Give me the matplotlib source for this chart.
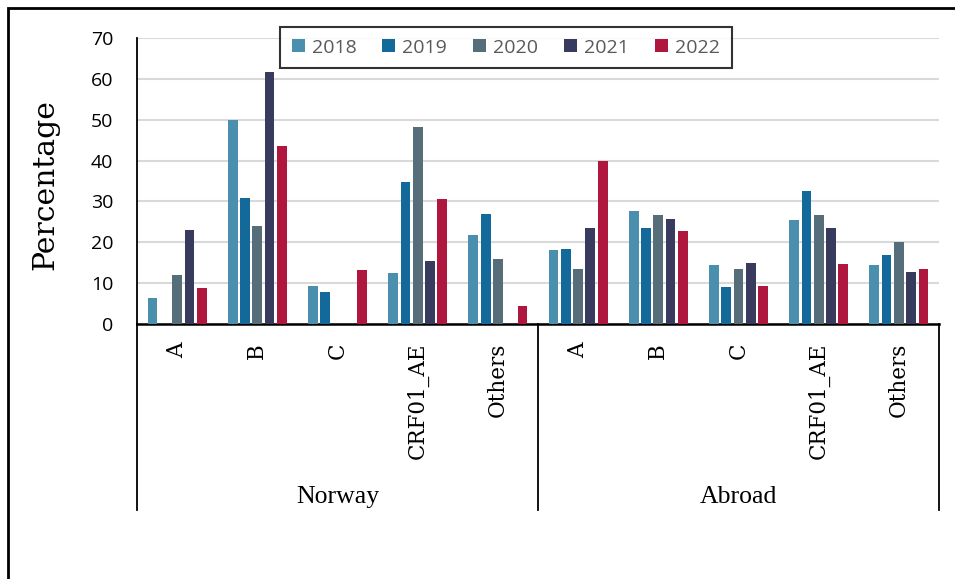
import matplotlib
matplotlib.use("Agg")
import matplotlib.pyplot as plt
import matplotlib.transforms as mtransforms
from matplotlib.patches import Rectangle
import numpy as np

# Subtype distribution by place of infection
origins = ["Norway", "Abroad"]
subtypes = ["A", "B", "C", "CRF01_AE", "Others"]
years = ["2018", "2019", "2020", "2021", "2022"]

# Values ordered: Norway A, B, C, CRF01_AE, Others, then Abroad A, B, C, CRF01_AE, Others
pct_2018 = [6.3, 50.0, 9.3, 12.5, 21.9, 18.1, 27.7, 14.5, 25.4, 14.5]
pct_2019 = [0.0, 30.8, 7.8, 34.7, 27.0, 18.3, 23.4, 9.1, 32.6, 16.9]
pct_2020 = [12.0, 24.0, 0.0, 48.2, 16.0, 13.4, 26.7, 13.4, 26.7, 20.1]
pct_2021 = [23.0, 61.7, 0.0, 15.4, 0.0, 23.4, 25.6, 14.9, 23.4, 12.8]
pct_2022 = [8.8, 43.6, 13.1, 30.5, 4.4, 40.0, 22.8, 9.4, 14.7, 13.5]

series = [pct_2018, pct_2019, pct_2020, pct_2021, pct_2022]
colors = ["#4A90AE", "#136A9A", "#566D7A", "#393B5E", "#B0173F"]

sans = ["Open Sans", "DejaVu Sans"]
serif_wide = ["DejaVu Serif"]
serif = ["Liberation Serif", "DejaVu Serif"]

fig = plt.figure(figsize=(9.55, 5.79), dpi=100)
ax = fig.add_axes([0.1435, 0.4404, 0.8397, 0.4940])

n_cat = len(origins) * len(subtypes)
x = np.arange(n_cat)
pitch = 0.153
width = 0.122
for i, (vals, col, yr) in enumerate(zip(series, colors, years)):
    offs = (i - 2) * pitch
    ax.bar(x + offs, vals, width=width, color=col, label=yr, zorder=3)

ax.set_xlim(-0.5, n_cat - 0.5)
ax.set_ylim(0, 70)
ax.set_yticks(np.arange(0, 71, 10))
ax.yaxis.grid(True, color="#D9D9D9", linewidth=1.5, zorder=0)
ax.set_axisbelow(True)
ax.tick_params(axis="y", length=0, pad=17, labelsize=14)
for lbl in ax.get_yticklabels():
    lbl.set_fontfamily(sans)
ax.set_xticks([])

for side in ["top", "right"]:
    ax.spines[side].set_visible(False)
ax.spines["left"].set_linewidth(1.3)
ax.spines["bottom"].set_linewidth(1.8)

ax.text(-0.1147, 0.486, "Percentage", transform=ax.transAxes, rotation=90,
        ha="center", va="center", fontsize=21.5, family=serif_wide)

# Two-level category axis below the plot
trans = mtransforms.blended_transform_factory(ax.transData, ax.transAxes)
for k in range(n_cat):
    ax.text(x[k], -0.066, subtypes[k % len(subtypes)], transform=trans,
            rotation=90, ha="center", va="top", fontsize=15.5,
            family=serif_wide)

bounds = [-0.5, 4.5, 9.5]
for b in bounds:
    ax.plot([b, b], [0, -0.65], transform=trans, color="black",
            linewidth=1.3, clip_on=False)
for g, name in enumerate(origins):
    ax.text((bounds[g] + bounds[g + 1]) / 2, -0.626, name, transform=trans,
            ha="center", va="baseline", fontsize=18.5, family=serif)

leg = ax.legend(loc="upper center", bbox_to_anchor=(0.460, 1.0385), ncol=5,
                frameon=True, fancybox=False, edgecolor="black",
                borderaxespad=0,
                handlelength=0.67, handleheight=0.67, handletextpad=0.36,
                columnspacing=1.34, borderpad=0.6,
                prop={"family": sans, "size": 14})
leg.get_frame().set_linewidth(1.5)
for t in leg.get_texts():
    t.set_color("#595959")

# Outer frame around the chart
fig.patches.append(Rectangle((8 / 955, -0.05), 1.2, 1.05 - 8 / 579,
                             transform=fig.transFigure, fill=False,
                             edgecolor="black", linewidth=2.0))

fig.savefig("out.png", dpi=100)
